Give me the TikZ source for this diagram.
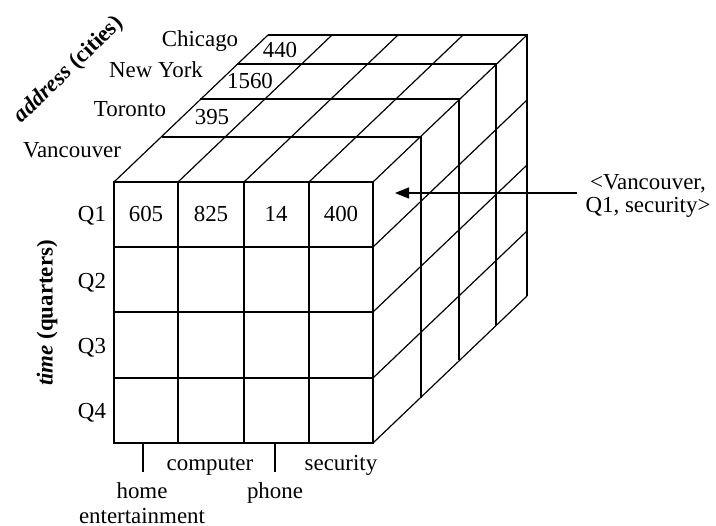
\documentclass[tikz,border=0pt]{standalone}
\usepackage{fontspec}
\setmainfont{Liberation Serif}
\usetikzlibrary{arrows.meta}
\begin{document}
\begin{tikzpicture}[x=1bp,y=-1bp,line width=1.2bp,
  lbl/.style={font=\fontsize{23}{27}\selectfont,inner sep=0pt,anchor=base},
  axis/.style={font=\fontsize{23}{27}\selectfont\bfseries,inner sep=0pt}]
\useasboundingbox (0,0) rectangle (716,526);
% front face
\draw (114,182) rectangle (373,443);
\foreach \x in {178,244,309} \draw (\x,182) -- (\x,443);
\foreach \y in {247,312,378} \draw (114,\y) -- (373,\y);
% depth layers (top and right edges)
\foreach \dx/\dy in {48/45,86/83,123/118,154/147}
  \draw (114+\dx,182-\dy) -- (373+\dx,182-\dy) -- (373+\dx,443-\dy);
% receding lines
\foreach \x in {114,178,244,309,373} \draw (\x,182) -- ++(154,-147);
\foreach \y in {247,312,378,443} \draw (373,\y) -- ++(154,-147);
% cities
\node[lbl] (chi) at (200,47) {Chicago};
\node[lbl] (ny) at (156,78) {New York};
\node[lbl] (tor) at (130,117) {Toronto};
\node[lbl] (van) at (72,158) {Vancouver};
\node[lbl] (v440) at (280,58) {440};
\node[lbl] (v1560) at (250,89) {1560};
\node[lbl] (v395) at (212,125) {395};
\node[axis,rotate=44] (addr) at (69,70) {\textit{address} (cities)};
% quarters
\node[axis,rotate=90] (time) at (47,313) {\textit{time} (quarters)};
\node[lbl] (q1) at (92,222) {Q1};
\node[lbl] (q2) at (92,288) {Q2};
\node[lbl] (q3) at (92,353) {Q3};
\node[lbl] (q4) at (92,418) {Q4};
\node[lbl] (c605) at (146,222) {605};
\node[lbl] (c825) at (211,222) {825};
\node[lbl] (c14) at (276,222) {14};
\node[lbl] (c400) at (341,222) {400};
% items
\coordinate (t1a) at (143,443); \coordinate (t1b) at (143,472);
\coordinate (t2a) at (275,443); \coordinate (t2b) at (275,472);
\draw (t1a) -- (t1b);
\draw (t2a) -- (t2b);
\node[lbl] (comp) at (210,470) {computer};
\node[lbl] (sec) at (341,470) {security};
\node[lbl] (home) at (142,498) {home};
\node[lbl] (phone) at (275,498) {phone};
\node[lbl] (ent) at (142,523) {entertainment};
% annotation
\node[lbl] (ann1) at (648,190) {<Vancouver,};
\node[lbl] (ann2) at (648,213) {Q1, security>};
\coordinate (astart) at (577,193);
\coordinate (tip) at (395,193);
\draw[-{Triangle[length=14bp,width=11bp]}] (astart) -- (tip);
\end{tikzpicture}
\end{document}
